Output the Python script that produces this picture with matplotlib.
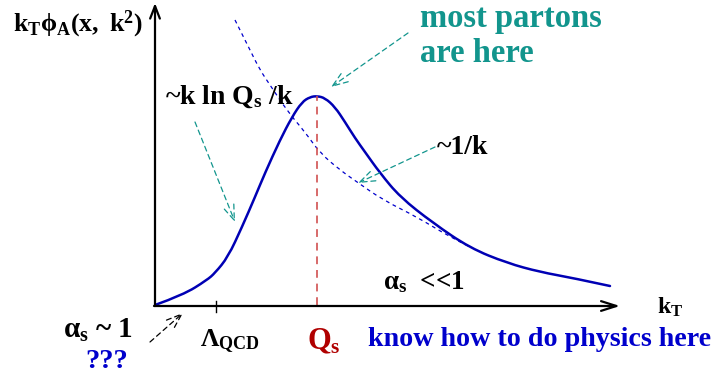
#!/usr/bin/env python3
# -*- coding: utf-8 -*-
"""Saturation sketch: unintegrated gluon distribution k_T phi_A(x, k^2) vs k_T."""

import matplotlib
matplotlib.use("Agg")
import matplotlib.pyplot as plt
from matplotlib.path import Path
from matplotlib.patches import PathPatch

# coordinates (x = k_T, y = k_T phi_A), arbitrary units
kt_curve = [0, 28, 52, 60, 73, 87, 100, 110, 125, 137, 147, 155, 162, 170,
            180, 190, 200, 210, 225, 245, 278, 315, 352, 385, 418, 455]
phi_curve = [0, 10, 25, 32, 48, 78, 108, 132, 165, 188, 203, 208, 209, 207,
             198, 183, 167, 153, 132, 108, 82, 57, 42, 33, 27, 19]

kt_inv = [80, 95, 105, 115, 133, 150, 165, 185, 202, 228, 262, 295, 315]
phi_inv = [285, 255, 235, 220, 193, 173, 152, 135, 123, 105, 88, 68, 58]

qs = 162          # peak position
lambda_qcd = 61   # tick on the k_T axis

TEAL = "#12958d"
BLUE = "#0000cc"
CURVE = "#0000b4"
DRED = "#b00000"

plt.rcParams["mathtext.fontset"] = "custom"
plt.rcParams["mathtext.rm"] = "Liberation Serif:bold"
plt.rcParams["mathtext.it"] = "Liberation Serif:bold"
plt.rcParams["mathtext.bf"] = "Liberation Serif:bold"
plt.rcParams["font.family"] = "Liberation Serif"
plt.rcParams["font.weight"] = "bold"


def smooth_path(xs, ys):
    # quadratic bezier through the midpoints of the read points
    pts = list(zip(xs, ys))
    verts = [pts[0]]
    codes = [Path.MOVETO]
    for i in range(1, len(pts) - 2):
        mid = ((pts[i][0] + pts[i + 1][0]) / 2, (pts[i][1] + pts[i + 1][1]) / 2)
        verts += [pts[i], mid]
        codes += [Path.CURVE3, Path.CURVE3]
    verts += [pts[-2], pts[-1]]
    codes += [Path.CURVE3, Path.CURVE3]
    return Path(verts, codes)


fig = plt.figure(figsize=(7.15, 3.76), dpi=100)
ax = fig.add_axes([0, 0, 1, 1])
ax.set_xlim(-155, 560)
ax.set_ylim(-71, 305)
ax.axis("off")

# axes with arrows
ax.annotate("", xy=(0, 302), xytext=(0, -1),
            arrowprops=dict(arrowstyle="->,head_length=0.9,head_width=0.35",
                            lw=1.6, color="black", shrinkA=0, shrinkB=0))
ax.annotate("", xy=(465, -1), xytext=(-1, -1),
            arrowprops=dict(arrowstyle="->,head_length=1.1,head_width=0.35",
                            lw=1.6, color="black", shrinkA=0, shrinkB=0))
ax.plot([lambda_qcd, lambda_qcd], [-7, 4], color="black", lw=1.0)

# curves
ax.plot([qs, qs], [0, 209], color="#d05050", lw=1.4, ls=(0, (4, 3)), alpha=0.85)
ax.add_patch(PathPatch(smooth_path(kt_inv, phi_inv), fill=False, edgecolor=BLUE,
                       lw=0.9, ls=(0, (3, 3))))
ax.add_patch(PathPatch(smooth_path(kt_curve, phi_curve), fill=False,
                       edgecolor=CURVE, lw=1.8, capstyle="round"))


# dashed pointers
def pointer(tail, head, color):
    ax.annotate("", xy=head, xytext=tail,
                arrowprops=dict(arrowstyle="->,head_length=1.1,head_width=0.4",
                                lw=0.9, color=color, ls=(0, (4, 3)),
                                shrinkA=0, shrinkB=0))


pointer((253, 272), (176, 218), TEAL)
pointer((40, 183), (80, 83), TEAL)
pointer((280, 158), (203, 122), TEAL)
pointer((-5, -37), (28, -8), "black")

ax.text(-142, 281, r"$\mathregular{k_T\phi_A(x,\ k^2)}$", fontsize=18.5, va="center")
ax.text(10, 208, r"~k ln $\mathregular{Q_s}$ /k", fontsize=20, va="center")
ax.text(282, 157, "~1/k", fontsize=20, va="center")
ax.text(228, 23, r"$\mathregular{\alpha_s}$  <<1", fontsize=19.5, va="center")
ax.text(502, -2, r"$\mathregular{k_T}$", fontsize=17, va="center")
ax.text(45, -36, r"$\mathregular{\Lambda_{QCD}}$", fontsize=18.5, va="center")
ax.text(152, -37, r"$\mathregular{Q_s}$", fontsize=22, va="center", color=DRED)
ax.text(-92, -25, r"$\mathregular{\alpha_s}$ ~ 1", fontsize=21, va="center")
ax.text(-70, -56, "???", fontsize=20.5, va="center", color=BLUE)
ax.text(213, -34, "know how to do physics here", fontsize=20.2, va="center",
        color=BLUE)
ax.text(265, 287, "most partons", fontsize=23.5, va="center", color=TEAL)
ax.text(265, 252, "are here", fontsize=23.5, va="center", color=TEAL)

fig.savefig("out.png", dpi=100)
